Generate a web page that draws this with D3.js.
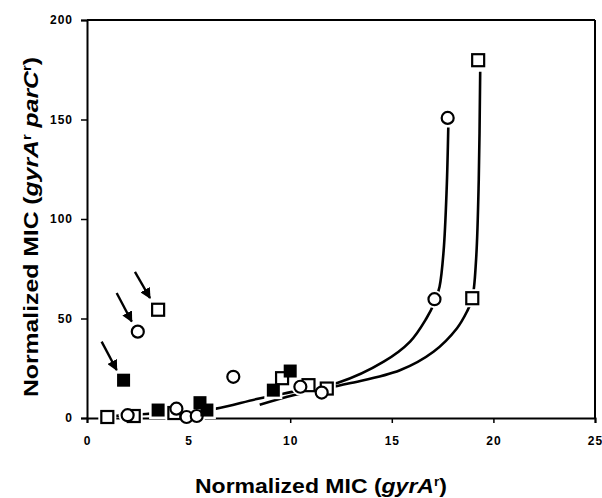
<!DOCTYPE html>
<html><head><meta charset="utf-8">
<script src="https://cdn.jsdelivr.net/npm/d3@7"></script>
<style>body{margin:0;background:#fff}svg{display:block}text{font-family:"Liberation Sans",Arial,sans-serif;}</style>
</head><body><div id="chart"></div>
<script>
// data (x = normalized MIC gyrA^r, y = normalized MIC gyrA^r parC^r)
const openCircles = [[2.0,1.4],[2.5,43.4],[4.4,4.7],[4.9,0.5],[5.4,1.0],[7.2,20.7],[10.5,15.7],[11.55,12.8],[17.1,59.7],[17.75,150.8]];
const openSquares = [[1.0,0.5],[2.3,1.0],[3.5,54.4],[4.3,2.5],[9.6,20.0],[10.9,16.5],[11.8,14.8],[18.96,60.2],[19.25,179.8]];
const filledSquares = [[1.8,19.0],[3.5,4.0],[5.56,7.7],[5.9,4.0],[9.17,14.0],[10.0,23.6]];
const curveCircle = [[1.0,0.8],[2.9,2.0],[4.5,3.0],[6.35,4.7],[8.35,9.5],[10.3,13.5],[12.35,17.7],[14.6,28.3],[15.9,38.4],[16.7,50],[17.1,58],[17.35,66],[17.55,84],[17.7,115],[17.78,146]];
const curveSquare = [[8.5,6.7],[10.2,11.6],[12.86,17.3],[15.4,24],[17.05,33.3],[18.2,45],[18.7,53.5],[18.96,60],[19.15,80],[19.28,120],[19.35,174]];
const arrows = [[[2.36,73.4],[3.1,60.3]],[[1.46,62.8],[2.2,48.5]],[[0.72,38.4],[1.46,24.1]]];
const xTicks = [0,5,10,15,20,25];
const yTicks = [0,50,100,150,200];

const W=602,H=498;
const svg=d3.select("#chart").append("svg").attr("width",W).attr("height",H);
const x=d3.scaleLinear().domain([0,25]).range([87,595]);
const y=d3.scaleLinear().domain([0,200]).range([418,20]);

svg.append("defs").append("marker").attr("id","ah").attr("viewBox","0 0 10 10")
  .attr("refX",9).attr("refY",5).attr("markerWidth",4.5).attr("markerHeight",4.5).attr("orient","auto")
  .append("path").attr("d","M0,0L10,5L0,10Z").attr("fill","#000");

// frame
svg.append("line").attr("x1",x(0)).attr("x2",x(25)).attr("y1",y(200)).attr("y2",y(200)).attr("stroke","#000").attr("stroke-width",2);
svg.append("line").attr("x1",x(25)).attr("x2",x(25)).attr("y1",y(200)).attr("y2",y(0)).attr("stroke","#000").attr("stroke-width",2);

const xa=svg.append("g").attr("transform",`translate(0,${y(0)})`)
  .call(d3.axisBottom(x).tickValues(xTicks).tickSize(5).tickPadding(13).tickFormat(d3.format("d")));
const ya=svg.append("g").attr("transform",`translate(${x(0)},0)`)
  .call(d3.axisLeft(y).tickValues(yTicks).tickSize(6).tickPadding(8).tickFormat(d3.format("d")));
[xa,ya].forEach(a=>{
  a.select(".domain").attr("stroke","#000").attr("stroke-width",2);
  a.selectAll(".tick line").attr("stroke","#000").attr("stroke-width",1.5);
  a.selectAll(".tick text").attr("fill","#000").style("font-size","12px").style("font-weight","bold").style("letter-spacing","1px")
   .style("font-family","'Liberation Sans',Arial,sans-serif");
});

// curves
const line=d3.line().x(d=>x(d[0])).y(d=>y(d[1])).curve(d3.curveCatmullRom.alpha(0.5));
[curveCircle,curveSquare].forEach(c=>svg.append("path").datum(c).attr("d",line)
  .attr("fill","none").attr("stroke","#000").attr("stroke-width",2.6));

// halos
const halo=svg.append("g");
openCircles.forEach(d=>halo.append("circle").attr("cx",x(d[0])).attr("cy",y(d[1])).attr("r",9).attr("fill","#fff"));
openSquares.concat(filledSquares).forEach(d=>halo.append("rect").attr("x",x(d[0])-9).attr("y",y(d[1])-9).attr("width",18).attr("height",18).attr("fill","#fff"));

// markers
svg.append("g").selectAll("rect.os").data(openSquares).join("rect")
  .attr("x",d=>x(d[0])-6).attr("y",d=>y(d[1])-6).attr("width",12).attr("height",12)
  .attr("fill","#fff").attr("stroke","#000").attr("stroke-width",2.2);
svg.append("g").selectAll("circle").data(openCircles).join("circle")
  .attr("cx",d=>x(d[0])).attr("cy",d=>y(d[1])).attr("r",6)
  .attr("fill","#fff").attr("stroke","#000").attr("stroke-width",2.2);
svg.append("g").selectAll("rect.fs").data(filledSquares).join("rect")
  .attr("x",d=>x(d[0])-6.5).attr("y",d=>y(d[1])-6.5).attr("width",13).attr("height",13)
  .attr("fill","#000");

// arrows
arrows.forEach(a=>svg.append("line").attr("x1",x(a[0][0])).attr("y1",y(a[0][1])).attr("x2",x(a[1][0])).attr("y2",y(a[1][1]))
  .attr("stroke","#000").attr("stroke-width",2.4).attr("marker-end","url(#ah)"));

// titles
const xt=svg.append("text").attr("x",321).attr("y",493).attr("text-anchor","middle")
  .attr("textLength",252).attr("lengthAdjust","spacingAndGlyphs")
  .style("font-size","20px").style("font-weight","bold");
xt.append("tspan").text("Normalized MIC (");
xt.append("tspan").style("font-style","italic").text("gyrA");
xt.append("tspan").attr("dy",-7).style("font-size","12px").text("r");
xt.append("tspan").attr("dy",7).text(")");

const yt=svg.append("text").attr("transform","translate(38,227) rotate(-90)").attr("text-anchor","middle")
  .attr("textLength",340).attr("lengthAdjust","spacingAndGlyphs")
  .style("font-size","20px").style("font-weight","bold");
yt.append("tspan").text("Normalized MIC (");
yt.append("tspan").style("font-style","italic").text("gyrA");
yt.append("tspan").attr("dy",-7).style("font-size","12px").text("r");
yt.append("tspan").attr("dy",7).style("font-style","italic").text(" parC");
yt.append("tspan").attr("dy",-7).style("font-size","12px").text("r");
yt.append("tspan").attr("dy",7).text(")");
</script></body></html>
